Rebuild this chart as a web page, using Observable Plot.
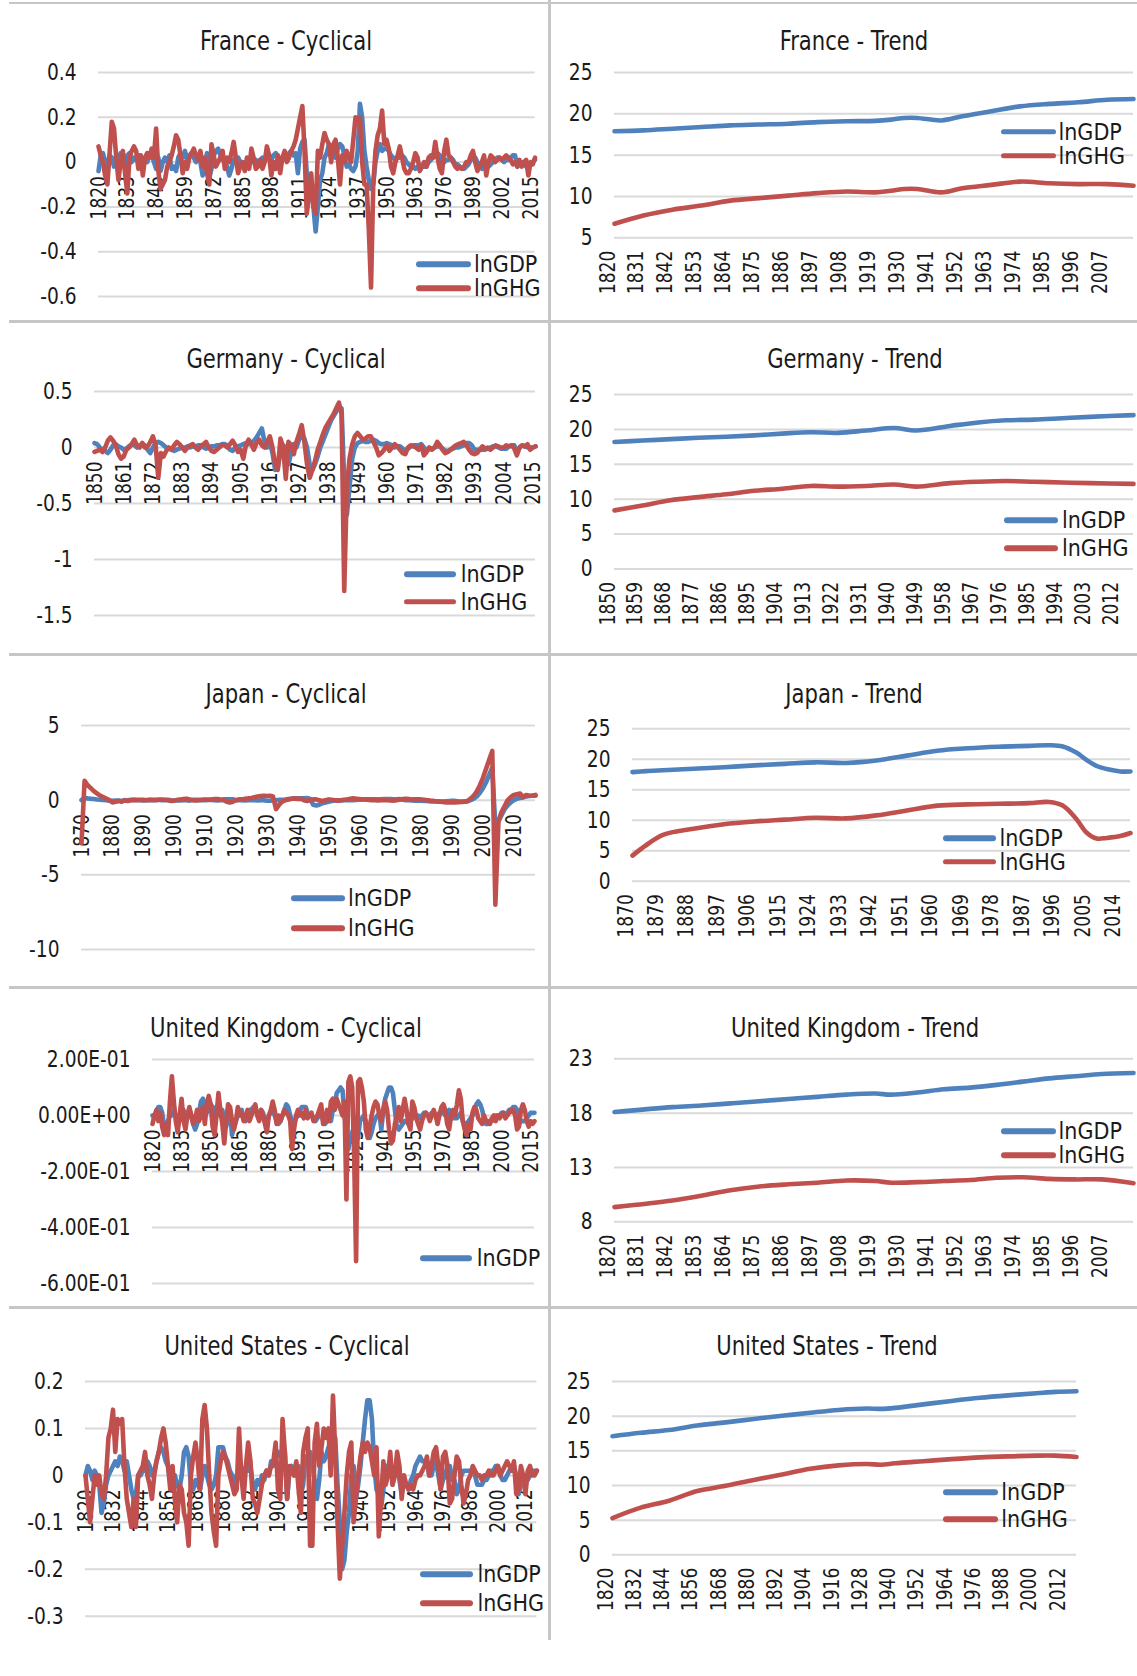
<!DOCTYPE html>
<html><head><meta charset="utf-8">
<script src="https://cdn.jsdelivr.net/npm/d3@7"></script>
<script src="https://cdn.jsdelivr.net/npm/@observablehq/plot@0.6"></script>
<style>
body{margin:0;background:#fff;}
#root{position:relative;width:1137px;height:1676px;background:#fff;overflow:hidden;font-family:"Liberation Sans Narrow","Arial Narrow","DejaVu Sans Condensed",sans-serif;}
.cell{position:absolute;}
.title{position:absolute;transform:translate(-50%,-50%) scaleX(0.87);font-size:27px;white-space:nowrap;color:#1a1a1a;}
.sw{position:absolute;height:5.5px;border-radius:3px;transform:translateY(-50%);}
.lt{position:absolute;transform:translateY(-50%);font-size:23px;color:#1a1a1a;white-space:nowrap;}
.sep{position:absolute;background:#c6c6c6;}
</style></head><body><div id="root"></div>
<script>
// ---------------- DATA ----------------
const seriesNames = ["lnGDP", "lnGHG"];

// France - Cyclical (annual, from 1820)
const franceCycStart = 1820;
const franceCycGDP = [
-0.04,0.03,0.04,0.0,-0.02,0.03,0.02,-0.02,0.0,0.02,
0.04,0.02,-0.02,0.03,0.04,0.0,0.02,0.01,0.02,0.03,
0.0,0.02,0.0,0.03,0.04,0.0,-0.03,0.02,-0.04,0.0,
0.02,0.0,0.03,-0.03,-0.02,-0.04,0.02,0.04,0.02,0.05,
0.01,0.03,0.04,0.02,0.0,0.03,0.0,-0.06,0.0,0.04,
-0.07,-0.03,0.03,0.05,0.06,0.03,0.01,0.0,-0.02,-0.06,
-0.03,0.01,0.02,0.02,0.0,-0.01,-0.02,-0.01,-0.01,0.0,
0.01,0.01,0.0,0.01,0.02,0.01,0.02,0.03,0.01,0.03,
0.04,0.02,0.0,0.02,0.03,0.02,0.04,0.05,0.03,0.04,
-0.05,0.06,0.09,0.1,-0.05,-0.15,-0.1,-0.2,-0.31,-0.2,
-0.08,-0.05,0.02,0.04,0.08,0.05,0.04,0.02,0.06,0.08,
0.07,0.03,-0.02,-0.01,-0.03,-0.04,-0.02,0.05,0.26,0.2,
0.05,-0.02,-0.08,-0.12,-0.1,0.0,0.05,0.08,0.05,0.06,
0.06,0.05,0.03,0.02,0.01,0.02,0.02,0.03,0.02,0.0,
-0.01,-0.02,-0.02,-0.03,-0.02,-0.03,-0.02,-0.02,-0.02,0.0,
0.01,0.02,0.03,0.04,0.03,-0.01,0.0,0.01,0.01,0.02,
0.01,-0.01,-0.01,-0.02,-0.03,-0.03,-0.02,-0.01,0.01,0.02,
0.02,0.0,-0.01,-0.03,-0.02,-0.02,-0.02,-0.01,0.0,0.01,
0.02,0.02,0.01,0.0,0.01,0.01,0.02,0.03,0.03,-0.02,
-0.01,0.0,-0.01,-0.02,-0.02,-0.01,0.0,0.01];
const franceCycGHG = [
0.07,0.03,0.0,-0.06,-0.1,0.04,0.18,0.15,0.02,-0.08,
0.0,0.05,-0.05,-0.14,0.02,0.05,0.07,0.05,-0.03,0.03,
-0.06,0.02,0.04,0.02,0.06,0.02,0.15,-0.04,-0.12,-0.1,
-0.08,-0.02,0.0,0.03,0.07,0.12,0.1,0.03,-0.05,0.0,
-0.03,0.02,0.04,0.06,0.03,0.01,0.05,-0.02,0.02,-0.05,
-0.1,0.08,0.03,-0.02,0.0,0.02,0.05,-0.03,0.02,0.0,
0.04,0.09,0.02,-0.05,-0.02,0.0,-0.04,0.02,-0.03,0.06,
0.02,-0.03,-0.02,0.01,-0.03,0.0,0.07,0.03,-0.06,0.0,
-0.03,0.03,-0.05,0.02,0.05,0.0,0.02,0.05,0.07,0.1,
0.15,0.2,0.25,0.05,-0.23,-0.15,-0.05,-0.2,-0.23,0.05,
0.02,0.08,0.13,0.1,0.08,0.0,0.08,0.1,0.02,-0.1,
0.03,0.0,0.05,0.02,0.0,0.1,0.2,0.18,0.2,0.0,
-0.1,-0.1,-0.3,-0.56,-0.1,0.05,0.12,0.15,0.23,0.08,
0.1,0.06,-0.02,-0.05,0.0,0.03,0.07,0.02,-0.03,-0.05,
-0.05,-0.03,0.0,0.04,0.02,-0.04,-0.02,0.0,-0.02,0.02,
0.03,0.02,0.09,0.02,-0.03,-0.05,0.05,0.1,0.03,0.02,
0.0,-0.02,-0.03,-0.02,-0.03,-0.02,0.0,0.0,0.03,0.05,
0.0,-0.04,-0.02,0.0,0.03,-0.06,0.0,0.03,0.02,0.0,
0.01,0.02,0.01,0.02,0.03,0.02,0.01,-0.01,0.0,-0.02,
0.01,-0.02,0.0,0.01,-0.06,0.0,-0.01,0.02];
const franceCycYTicks = [0.4, 0.2, 0, -0.2, -0.4, -0.6];
const franceCycYLabels = ["0.4", "0.2", "0", "-0.2", "-0.4", "-0.6"];
const franceCycXLabels = ["1820","1833","1846","1859","1872","1885","1898","1911","1924","1937","1950","1963","1976","1989","2002","2015"];

// France - Trend
const franceTrendYears = [1820,1831,1842,1853,1864,1875,1886,1897,1908,1919,1925,1930,1935,1944,1952,1963,1974,1985,1996,2007,2017];
const franceTrendGDP = [17.9,18.0,18.2,18.4,18.6,18.7,18.8,19.0,19.1,19.15,19.3,19.5,19.5,19.2,19.7,20.3,20.9,21.2,21.4,21.7,21.8];
const franceTrendGHG = [6.7,7.7,8.4,8.9,9.5,9.8,10.1,10.4,10.6,10.5,10.7,10.9,10.9,10.5,11.0,11.4,11.8,11.6,11.5,11.5,11.3];
const franceTrendYTicks = [25, 20, 15, 10, 5];
const franceTrendYLabels = ["25", "20", "15", "10", "5"];
const franceTrendXLabels = ["1820","1831","1842","1853","1864","1875","1886","1897","1908","1919","1930","1941","1952","1963","1974","1985","1996","2007"];

// Germany - Cyclical (annual, from 1850)
const germanyCycStart = 1850;
const germanyCycGDP = [
0.04,0.03,0.0,-0.02,-0.03,-0.05,-0.02,0.02,0.03,0.01,
0.0,-0.02,-0.01,0.01,0.03,0.02,0.0,0.02,0.03,0.02,
-0.02,-0.05,0.0,0.04,0.05,0.04,0.02,0.0,-0.01,-0.02,
-0.03,-0.02,-0.01,0.0,0.0,0.01,0.0,0.01,0.01,0.02,
0.02,0.0,-0.01,0.0,0.01,0.01,0.02,0.02,0.03,0.03,
0.02,-0.02,-0.03,0.0,0.01,0.02,0.03,0.04,0.03,0.04,
0.06,0.09,0.13,0.17,0.05,0.0,0.05,-0.05,-0.2,-0.18,
-0.05,0.02,0.0,-0.15,-0.05,0.03,0.0,0.07,0.1,0.08,
0.0,-0.15,-0.2,-0.15,-0.08,0.0,0.06,0.12,0.18,0.24,
0.28,0.32,0.36,0.35,-0.3,-0.6,-0.35,-0.1,0.0,0.04,
0.05,0.06,0.05,0.05,0.06,0.07,0.06,0.04,0.03,0.03,
0.04,0.03,0.02,0.0,0.01,0.01,-0.01,-0.03,-0.01,0.01,
0.02,0.02,0.02,0.03,0.0,-0.03,-0.01,-0.01,0.0,0.01,
0.01,-0.01,-0.03,-0.03,-0.02,-0.01,0.0,0.0,0.01,0.02,
0.04,0.04,0.02,-0.02,-0.02,-0.02,-0.02,-0.02,-0.01,0.0,
0.01,0.01,0.0,-0.01,-0.01,-0.01,0.01,0.02,0.02,-0.04,
0.0,0.02,0.01,0.0,0.0,0.0,0.01];
const germanyCycGHG = [
-0.04,-0.03,-0.02,-0.04,0.0,0.06,0.09,0.06,0.02,-0.06,
-0.1,-0.08,-0.02,0.0,0.03,0.07,0.02,0.0,0.04,0.0,
0.01,0.05,0.1,0.02,-0.27,-0.05,-0.08,-0.03,0.0,-0.02,
0.02,0.05,0.03,0.0,-0.03,0.0,0.02,0.03,0.0,-0.02,
0.01,0.03,0.05,0.0,-0.03,-0.04,-0.02,0.0,0.02,0.02,
0.0,0.03,0.06,0.02,-0.04,-0.02,-0.1,0.02,0.07,0.03,
-0.02,0.04,0.07,0.02,0.0,0.05,0.1,0.0,-0.15,-0.2,
0.08,0.0,-0.28,0.05,0.02,-0.06,0.05,0.12,0.2,0.05,
-0.15,-0.27,-0.2,-0.12,-0.02,0.05,0.12,0.18,0.22,0.26,
0.3,0.35,0.4,0.3,-1.28,-0.35,-0.1,0.03,0.1,0.13,
0.1,0.07,0.08,0.1,0.1,0.05,0.0,-0.07,-0.05,-0.02,
0.02,-0.03,0.0,0.03,0.01,-0.02,-0.05,-0.06,0.0,0.02,
0.01,0.0,-0.02,0.02,-0.07,-0.04,0.0,-0.02,0.0,0.05,
0.02,-0.02,-0.05,-0.04,-0.02,0.0,0.02,0.03,0.04,0.05,
0.02,-0.02,-0.05,-0.06,-0.05,-0.02,0.01,-0.01,0.0,-0.02,
0.0,0.02,0.01,0.0,0.0,0.02,0.01,0.02,-0.01,-0.07,
0.0,0.02,0.01,0.03,-0.02,0.0,0.01];
const germanyCycYTicks = [0.5, 0, -0.5, -1, -1.5];
const germanyCycYLabels = ["0.5", "0", "-0.5", "-1", "-1.5"];
const germanyCycXLabels = ["1850","1861","1872","1883","1894","1905","1916","1927","1938","1949","1960","1971","1982","1993","2004","2015"];

// Germany - Trend
const germanyTrendYears = [1850,1859,1868,1877,1886,1895,1904,1913,1922,1931,1940,1947,1958,1967,1976,1985,1994,2003,2017];
const germanyTrendGDP = [18.2,18.4,18.6,18.8,18.95,19.15,19.4,19.6,19.5,19.85,20.2,19.85,20.5,21.0,21.3,21.4,21.6,21.8,22.05];
const germanyTrendGHG = [8.4,9.1,9.85,10.3,10.7,11.2,11.5,11.9,11.8,11.9,12.1,11.8,12.3,12.5,12.6,12.5,12.4,12.3,12.2];
const germanyTrendYTicks = [25, 20, 15, 10, 5, 0];
const germanyTrendYLabels = ["25", "20", "15", "10", "5", "0"];
const germanyTrendXLabels = ["1850","1859","1868","1877","1886","1895","1904","1913","1922","1931","1940","1949","1958","1967","1976","1985","1994","2003","2012"];

// Japan - Cyclical (annual, from 1870)
const japanCycStart = 1870;
const japanCycGDP = [
0.0,0.15,0.12,0.1,0.08,0.05,0.03,0.01,-0.01,-0.03,
-0.04,-0.03,-0.02,-0.05,-0.03,0.0,0.02,0.03,0.02,0.0,
-0.02,0.0,0.01,0.0,0.02,0.03,0.0,-0.01,0.03,0.0,
-0.02,0.0,-0.02,0.0,0.0,-0.03,0.02,0.03,0.02,0.0,
0.0,0.02,0.02,0.0,-0.02,0.0,0.05,0.06,0.05,0.06,
0.0,0.02,0.0,-0.02,-0.01,0.0,-0.01,-0.02,0.0,0.0,
-0.04,-0.04,-0.02,0.0,0.02,0.03,0.04,0.08,0.1,0.12,
0.12,0.12,0.12,0.14,0.1,-0.3,-0.35,-0.3,-0.2,-0.15,
-0.1,-0.05,-0.02,-0.01,-0.02,0.0,0.0,0.02,0.0,0.01,
0.03,0.05,0.05,0.05,0.06,0.05,0.05,0.06,0.07,0.08,
0.08,0.06,0.06,0.07,0.03,0.0,-0.01,-0.02,-0.03,-0.03,
-0.04,-0.05,-0.06,-0.08,-0.08,-0.08,-0.1,-0.1,-0.08,-0.06,
-0.05,-0.05,-0.08,-0.1,-0.1,-0.08,0.0,0.1,0.25,0.5,
0.8,1.2,1.7,2.2,-1.8,-1.4,-1.0,-0.6,-0.35,-0.15,
0.0,0.1,0.15,0.2,0.25,0.28,0.3,0.3];
const japanCycGHG = [
-2.9,1.3,1.0,0.8,0.6,0.45,0.3,0.2,0.1,0.0,
-0.15,-0.1,-0.05,-0.1,0.0,-0.05,0.0,0.02,0.0,0.03,
0.02,0.0,0.03,0.02,0.0,0.03,0.05,0.03,0.0,-0.05,
-0.03,0.02,0.05,0.08,0.1,0.05,0.0,-0.02,0.0,0.03,
0.05,0.03,0.05,0.07,0.08,0.05,0.0,-0.1,-0.15,-0.1,
0.0,0.05,0.05,0.1,0.12,0.15,0.2,0.25,0.28,0.3,
0.28,0.3,0.25,-0.6,-0.3,-0.1,0.0,0.05,0.1,0.12,
0.08,0.1,0.0,-0.05,0.0,0.05,0.05,0.0,-0.05,0.0,
0.05,0.03,0.0,-0.03,0.0,0.03,0.05,0.1,0.12,0.1,
0.08,0.05,0.05,0.02,0.0,0.0,-0.02,0.0,0.02,0.0,
-0.02,-0.03,0.0,0.05,0.08,0.1,0.08,0.05,0.05,0.05,
0.05,0.03,0.0,-0.03,-0.05,-0.08,-0.1,-0.12,-0.15,-0.15,
-0.15,-0.15,-0.14,-0.12,-0.1,-0.05,0.1,0.3,0.6,1.0,
1.5,2.1,2.7,3.3,-7.0,-1.4,-0.8,-0.4,0.0,0.2,
0.35,0.4,0.45,0.2,0.35,0.3,0.3,0.35];
const japanCycYTicks = [5, 0, -5, -10];
const japanCycYLabels = ["5", "0", "-5", "-10"];
const japanCycXLabels = ["1870","1880","1890","1900","1910","1920","1930","1940","1950","1960","1970","1980","1990","2000","2010"];

// Japan - Trend
const japanTrendYears = [1870,1874,1879,1888,1897,1906,1915,1924,1933,1942,1951,1960,1969,1978,1987,1993,1997,2001,2004,2007,2010,2014,2017];
const japanTrendGDP = [17.9,18.05,18.2,18.45,18.7,19.0,19.25,19.5,19.4,19.8,20.6,21.4,21.8,22.05,22.2,22.3,22.1,21.1,19.9,18.9,18.4,18.0,18.0];
const japanTrendGHG = [4.2,5.9,7.6,8.6,9.35,9.8,10.1,10.4,10.3,10.8,11.6,12.4,12.6,12.7,12.8,13.0,12.4,10.2,8.0,7.0,7.1,7.4,7.9];
const japanTrendYTicks = [25, 20, 15, 10, 5, 0];
const japanTrendYLabels = ["25", "20", "15", "10", "5", "0"];
const japanTrendXLabels = ["1870","1879","1888","1897","1906","1915","1924","1933","1942","1951","1960","1969","1978","1987","1996","2005","2014"];

// United Kingdom - Cyclical (annual, from 1820)
const ukCycStart = 1820;
const ukCycGDP = [
0.0,-0.01,0.01,0.03,0.03,0.01,-0.04,-0.04,-0.02,0.0,
0.0,0.02,0.0,-0.02,0.0,0.02,0.02,0.0,-0.01,0.02,
0.0,-0.03,-0.05,-0.03,0.01,0.05,0.06,0.04,0.01,0.02,
0.04,0.03,0.0,0.03,0.04,0.0,0.02,-0.02,-0.04,0.0,
0.02,-0.07,-0.04,-0.02,0.0,0.01,0.02,-0.01,-0.02,0.0,
0.02,0.02,0.03,0.02,0.01,0.0,0.02,0.01,-0.02,-0.03,
0.0,0.01,0.02,0.0,-0.02,-0.03,-0.02,0.0,0.02,0.04,
0.03,0.0,-0.02,-0.03,-0.01,0.0,0.02,0.03,0.03,0.03,
0.01,0.0,0.0,-0.01,-0.02,-0.01,0.0,0.01,-0.02,-0.03,
-0.02,0.0,-0.02,0.02,0.04,0.08,0.09,0.1,0.09,0.0,
-0.05,-0.12,-0.08,-0.06,-0.04,-0.03,-0.08,-0.02,-0.01,0.0,
-0.02,-0.07,-0.08,-0.06,-0.03,-0.01,0.0,0.01,-0.05,0.02,
0.06,0.08,0.1,0.1,0.08,0.02,-0.04,-0.05,-0.04,-0.03,
-0.02,-0.02,-0.03,-0.02,-0.01,0.0,0.0,0.0,-0.01,0.0,
0.01,0.01,0.0,0.0,0.01,0.01,0.0,0.0,0.01,0.01,
0.01,0.0,0.0,0.02,0.0,-0.01,-0.01,-0.01,0.0,0.01,
-0.02,-0.03,-0.03,-0.02,-0.01,0.0,0.02,0.04,0.05,0.04,
0.02,-0.01,-0.03,-0.03,-0.02,-0.02,-0.01,0.0,0.0,0.0,
0.01,0.01,0.0,0.01,0.02,0.02,0.03,0.03,0.02,-0.03,
-0.02,-0.02,-0.02,-0.01,0.0,0.01,0.01,0.01];
const ukCycGHG = [
-0.03,0.0,0.02,-0.02,0.01,-0.04,-0.07,-0.03,-0.07,0.05,
0.14,0.05,-0.02,-0.06,0.0,0.06,-0.02,-0.05,0.0,0.03,
0.0,-0.03,-0.01,0.02,-0.02,0.0,0.03,-0.03,0.04,0.07,
0.04,-0.04,-0.07,0.0,0.08,0.02,-0.03,-0.1,-0.02,0.04,
0.03,-0.02,-0.05,-0.02,0.03,0.0,0.01,-0.02,-0.01,0.02,
-0.02,0.0,0.02,0.04,0.0,-0.02,0.02,0.0,-0.03,-0.06,
0.0,0.02,0.05,0.02,-0.03,0.0,-0.02,0.0,0.02,0.01,
0.0,-0.02,-0.12,-0.05,0.0,0.02,0.0,0.01,-0.01,0.02,
-0.01,0.0,0.01,-0.02,-0.01,0.0,0.02,0.04,-0.03,-0.02,
0.02,-0.02,0.05,0.06,0.02,0.06,0.04,0.02,0.0,0.05,
-0.3,0.12,0.14,0.1,-0.15,-0.52,0.12,0.13,0.1,0.05,
-0.05,-0.08,-0.04,0.0,0.03,0.05,0.04,0.0,-0.02,0.02,
0.05,0.02,-0.05,-0.1,-0.09,-0.03,0.0,0.03,-0.02,0.02,
0.06,0.02,-0.03,-0.05,0.05,0.03,-0.01,-0.03,-0.05,-0.02,
0.0,0.01,0.0,-0.02,0.0,0.02,0.0,-0.03,0.0,0.03,
0.04,0.02,-0.03,-0.05,0.0,0.02,0.0,0.04,0.09,0.06,
-0.02,-0.05,-0.07,-0.03,-0.05,0.01,0.03,0.02,-0.01,-0.02,
-0.03,0.0,-0.02,-0.02,-0.03,-0.01,0.0,-0.02,0.0,-0.01,
0.0,0.01,-0.01,0.0,0.01,0.02,0.02,0.0,-0.05,-0.04,
0.02,0.04,0.02,-0.02,-0.04,-0.02,-0.03,-0.02];
const ukCycYTicks = [0.2, 0, -0.2, -0.4, -0.6];
const ukCycYLabels = ["2.00E-01", "0.00E+00", "-2.00E-01", "-4.00E-01", "-6.00E-01"];
const ukCycXLabels = ["1820","1835","1850","1865","1880","1895","1910","1925","1940","1955","1970","1985","2000","2015"];

// United Kingdom - Trend
const ukTrendYears = [1820,1842,1853,1864,1875,1886,1897,1908,1919,1925,1935,1945,1955,1965,1975,1985,1995,2005,2017];
const ukTrendGDP = [18.1,18.55,18.7,18.9,19.1,19.3,19.5,19.7,19.8,19.7,19.9,20.2,20.35,20.6,20.9,21.2,21.4,21.6,21.7];
const ukTrendGHG = [9.35,9.96,10.4,10.9,11.25,11.45,11.6,11.8,11.75,11.6,11.65,11.75,11.85,12.05,12.1,11.95,11.9,11.9,11.55];
const ukTrendYTicks = [23, 18, 13, 8];
const ukTrendYLabels = ["23", "18", "13", "8"];
const ukTrendXLabels = ["1820","1831","1842","1853","1864","1875","1886","1897","1908","1919","1930","1941","1952","1963","1974","1985","1996","2007"];

// United States - Cyclical (annual, from 1820)
const usCycStart = 1820;
const usCycGDP = [
0.0,0.02,0.01,-0.01,0.01,0.0,-0.02,-0.08,-0.06,-0.02,
0.0,0.01,0.02,0.03,0.02,0.04,0.03,0.01,0.03,0.0,
-0.03,-0.05,-0.04,0.0,0.0,0.01,0.01,0.03,0.02,0.0,
0.01,0.03,0.05,0.06,0.05,0.03,0.02,-0.01,-0.03,0.0,
-0.02,-0.03,0.0,0.05,0.06,0.04,-0.02,-0.03,-0.01,-0.02,
-0.03,0.0,0.02,0.0,-0.02,-0.03,-0.02,0.0,0.06,0.06,
0.06,0.04,0.03,0.01,0.0,-0.02,0.0,0.01,0.0,0.0,
0.02,0.01,0.02,-0.02,-0.03,-0.01,-0.02,0.0,-0.01,0.01,
0.0,0.03,0.02,0.04,0.05,0.04,0.05,0.05,-0.05,0.01,
0.02,0.0,0.02,0.02,-0.04,-0.02,0.04,0.02,0.05,0.02,
-0.01,-0.05,-0.01,0.05,0.03,0.04,0.06,0.05,0.05,0.08,
-0.02,-0.1,-0.2,-0.18,-0.12,-0.08,0.0,0.02,-0.05,-0.02,
0.02,0.07,0.12,0.16,0.16,0.12,0.02,-0.03,-0.04,-0.07,
-0.03,0.01,0.02,0.03,-0.02,0.01,0.01,-0.01,-0.04,-0.01,
-0.02,-0.03,-0.01,0.0,0.02,0.03,0.04,0.03,0.03,0.03,
0.0,0.0,0.02,0.03,0.0,-0.03,-0.01,0.0,0.02,0.02,
-0.01,-0.01,-0.04,-0.03,0.0,0.01,0.01,0.01,0.01,0.01,
0.0,-0.02,-0.02,-0.02,-0.01,-0.01,0.0,0.01,0.01,0.02,
0.02,0.0,-0.01,-0.01,0.0,0.01,0.02,0.02,0.0,-0.04,
-0.02,-0.02,-0.01,-0.01,0.0,0.01,0.01,0.01];
const usCycGHG = [
0.0,-0.05,-0.1,-0.05,0.0,-0.02,0.0,-0.04,-0.05,0.0,
0.08,0.1,0.14,0.05,0.12,0.11,0.12,0.02,-0.05,-0.08,
-0.11,-0.05,-0.11,0.0,0.01,0.02,0.05,0.0,-0.02,-0.05,
0.0,0.03,0.05,0.08,0.1,0.07,0.02,-0.03,0.02,-0.05,
-0.1,-0.02,-0.03,-0.08,-0.1,-0.15,0.0,0.04,0.07,0.03,
-0.03,0.12,0.15,0.1,0.0,-0.08,-0.12,-0.15,0.0,0.03,
0.05,0.04,0.02,0.0,-0.02,-0.04,-0.03,0.1,0.0,-0.05,
0.02,0.07,0.03,-0.05,-0.06,-0.08,-0.05,-0.02,0.0,0.01,
0.0,0.02,0.03,0.07,-0.03,-0.05,0.12,0.05,-0.05,0.02,
0.01,0.0,0.03,-0.03,-0.08,0.05,0.08,0.1,-0.15,-0.15,
0.07,0.11,0.02,0.06,0.1,0.08,0.1,0.0,0.17,0.05,
-0.1,-0.22,-0.15,-0.08,0.0,0.05,0.07,-0.1,-0.05,0.0,
0.04,0.07,0.05,0.07,0.06,0.03,0.0,0.06,-0.13,-0.05,
0.03,-0.02,0.0,0.05,-0.02,0.0,0.05,0.02,-0.05,0.0,
-0.02,-0.03,-0.02,-0.03,-0.01,0.0,0.0,0.01,0.02,0.04,
0.0,0.02,0.05,0.06,0.02,-0.03,0.04,0.05,0.02,-0.06,
-0.05,0.0,0.04,0.03,-0.02,-0.06,-0.04,-0.01,0.0,0.02,
0.01,0.0,0.0,-0.01,0.0,0.0,0.01,0.0,0.0,0.01,
0.02,0.0,0.01,0.02,0.03,0.02,0.01,0.03,-0.04,-0.03,
0.02,0.0,-0.04,0.01,0.02,0.0,0.0,0.01];
const usCycYTicks = [0.2, 0.1, 0, -0.1, -0.2, -0.3];
const usCycYLabels = ["0.2", "0.1", "0", "-0.1", "-0.2", "-0.3"];
const usCycXLabels = ["1820","1832","1844","1856","1868","1880","1892","1904","1916","1928","1940","1952","1964","1976","1988","2000","2012"];

// United States - Trend
const usTrendYears = [1820,1832,1844,1856,1868,1880,1892,1904,1916,1928,1934,1940,1952,1964,1976,1988,2000,2008,2017];
const usTrendGDP = [17.1,17.6,18.0,18.65,19.1,19.6,20.05,20.5,20.9,21.1,21.05,21.2,21.7,22.2,22.65,23.0,23.3,23.5,23.6];
const usTrendGHG = [5.3,6.8,7.8,9.2,9.95,10.8,11.6,12.4,12.9,13.1,13.0,13.2,13.5,13.8,14.05,14.2,14.3,14.3,14.1];
const usTrendYTicks = [25, 20, 15, 10, 5, 0];
const usTrendYLabels = ["25", "20", "15", "10", "5", "0"];
const usTrendXLabels = ["1820","1832","1844","1856","1868","1880","1892","1904","1916","1928","1940","1952","1964","1976","1988","2000","2012"];

// ---------------- LAYOUT / STYLE ----------------
const FONT = '"Liberation Sans Narrow","Arial Narrow","DejaVu Sans Condensed",sans-serif';
const BLUE = "#4f81bd", RED = "#c0504d", TXT = "#1a1a1a";
const ROWS = [[0,321],[321,654],[654,987],[987,1307],[1307,1676]];
const COLS = [[0,549],[549,1137]];

const fromStart = (start, vals) => vals.map((v, i) => ({year: start + i, v}));
const fromYears = (years, vals) => vals.map((v, i) => ({year: years[i], v}));

const panels = [
  {title:"France - Cyclical", r:0, c:0, tx:286, ty:39.5, g:[98,534.5,72,296], xd:[1820,2017],
   yt:franceCycYTicks, yl:franceCycYLabels, xl:franceCycXLabels, cyc:true,
   gdp:fromStart(franceCycStart, franceCycGDP), ghg:fromStart(franceCycStart, franceCycGHG),
   lg:{x1:416, x2:471, ys:[264,288.3], tx:474, n:2}},
  {title:"France - Trend", r:0, c:1, tx:854, ty:39.5, g:[614,1133,72,237.3], xd:[1820,2017],
   yt:franceTrendYTicks, yl:franceTrendYLabels, xl:franceTrendXLabels, cyc:false,
   gdp:fromYears(franceTrendYears, franceTrendGDP), ghg:fromYears(franceTrendYears, franceTrendGHG),
   lg:{x1:1001, x2:1055.5, ys:[131.7,155.7], tx:1058.5, n:2}},
  {title:"Germany - Cyclical", r:1, c:0, tx:286, ty:357.5, g:[94,535,391,615], xd:[1850,2016],
   yt:germanyCycYTicks, yl:germanyCycYLabels, xl:germanyCycXLabels, cyc:true,
   gdp:fromStart(germanyCycStart, germanyCycGDP), ghg:fromStart(germanyCycStart, germanyCycGHG),
   lg:{x1:403.6, x2:456.4, ys:[574.3,601.7], tx:460.7, n:2}},
  {title:"Germany - Trend", r:1, c:1, tx:854.5, ty:357.5, g:[614,1133,394,568.5], xd:[1850,2017],
   yt:germanyTrendYTicks, yl:germanyTrendYLabels, xl:germanyTrendXLabels, cyc:false,
   gdp:fromYears(germanyTrendYears, germanyTrendGDP), ghg:fromYears(germanyTrendYears, germanyTrendGHG),
   lg:{x1:1004.3, x2:1058.2, ys:[520,548.3], tx:1062, n:2}},
  {title:"Japan - Cyclical", r:2, c:0, tx:286, ty:692.7, g:[81,535,725,949], xd:[1870,2017],
   yt:japanCycYTicks, yl:japanCycYLabels, xl:japanCycXLabels, cyc:true,
   gdp:fromStart(japanCycStart, japanCycGDP), ghg:fromStart(japanCycStart, japanCycGHG),
   lg:{x1:291, x2:344.6, ys:[898.3,928.3], tx:348, n:2}},
  {title:"Japan - Trend", r:2, c:1, tx:854.3, ty:692.7, g:[632,1130,728.3,880.7], xd:[1870,2017],
   yt:japanTrendYTicks, yl:japanTrendYLabels, xl:japanTrendXLabels, cyc:false,
   gdp:fromYears(japanTrendYears, japanTrendGDP), ghg:fromYears(japanTrendYears, japanTrendGHG),
   lg:{x1:942.5, x2:995.7, ys:[838.3,861.7], tx:999.4, n:2}},
  {title:"United Kingdom - Cyclical", r:3, c:0, tx:285.5, ty:1026.7, g:[152,534,1059,1283], xd:[1820,2017],
   yt:ukCycYTicks, yl:ukCycYLabels, xl:ukCycXLabels, cyc:true,
   gdp:fromStart(ukCycStart, ukCycGDP), ghg:fromStart(ukCycStart, ukCycGHG),
   lg:{x1:419.6, x2:472, ys:[1258.3], tx:476.8, n:1}},
  {title:"United Kingdom - Trend", r:3, c:1, tx:854.7, ty:1026.7, g:[614,1133,1058.3,1221.3], xd:[1820,2017],
   yt:ukTrendYTicks, yl:ukTrendYLabels, xl:ukTrendXLabels, cyc:false,
   gdp:fromYears(ukTrendYears, ukTrendGDP), ghg:fromYears(ukTrendYears, ukTrendGHG),
   lg:{x1:1001, x2:1055.6, ys:[1131,1155], tx:1058.6, n:2}},
  {title:"United States - Cyclical", r:4, c:0, tx:287, ty:1345, g:[85,536.4,1381,1615.7], xd:[1820,2017],
   yt:usCycYTicks, yl:usCycYLabels, xl:usCycXLabels, cyc:true,
   gdp:fromStart(usCycStart, usCycGDP), ghg:fromStart(usCycStart, usCycGHG),
   lg:{x1:419.6, x2:473, ys:[1574,1603.3], tx:477.5, n:2}},
  {title:"United States - Trend", r:4, c:1, tx:826.8, ty:1345, g:[612,1076,1381,1554.3], xd:[1820,2017],
   yt:usTrendYTicks, yl:usTrendYLabels, xl:usTrendXLabels, cyc:false,
   gdp:fromYears(usTrendYears, usTrendGDP), ghg:fromYears(usTrendYears, usTrendGHG),
   lg:{x1:943, x2:997.6, ys:[1492.3,1519.3], tx:1001.3, n:2}}
];

const root = document.getElementById("root");
function addDiv(cls, css, text) {
  const d = document.createElement("div");
  d.className = cls;
  Object.assign(d.style, css);
  if (text != null) d.textContent = text;
  root.appendChild(d);
  return d;
}

// condense SVG text (the original uses a narrow typeface)
function condense(svg) {
  for (const t of svg.querySelectorAll("text")) {
    const rotated = (t.getAttribute("transform") || "").includes("rotate");
    const f = rotated ? 0.86 : 0.9;
    const L = t.getComputedTextLength();
    if (L > 0) {
      t.setAttribute("textLength", (L * f).toFixed(2));
      t.setAttribute("lengthAdjust", "spacingAndGlyphs");
    }
  }
}

for (const p of panels) {
  const [rt, rb] = ROWS[p.r], [cl, cr] = COLS[p.c];
  const labelMap = new Map(p.yt.map((t, i) => [t, p.yl[i]]));
  const xText = p.cyc
    ? Plot.text(p.xl, {x: d => +d, y: () => 0, text: d => d, rotate: -90, textAnchor: "end", dy: 14, fontSize: 22, fill: TXT})
    : Plot.text(p.xl, {x: d => +d, frameAnchor: "bottom", text: d => d, rotate: -90, textAnchor: "end", dy: 13, fontSize: 22, fill: TXT});
  const curve = p.cyc ? "linear" : "catmull-rom";
  const svg = Plot.plot({
    width: cr - cl, height: rb - rt,
    marginLeft: p.g[0] - cl, marginRight: cr - p.g[1],
    marginTop: p.g[2] - rt, marginBottom: rb - p.g[3],
    x: {domain: p.xd, axis: null, label: null},
    y: {domain: [d3.min(p.yt), d3.max(p.yt)], axis: null, label: null},
    style: {fontFamily: FONT, background: "transparent", color: TXT, overflow: "visible"},
    marks: [
      Plot.gridY(p.yt, {stroke: "#d9d9d9", strokeOpacity: 1, strokeWidth: 2}),
      Plot.axisY(p.yt, {tickSize: 0, tickPadding: 22, tickFormat: d => labelMap.get(d), fontSize: 23, label: null, fill: TXT}),
      xText,
      Plot.line(p.gdp, {x: "year", y: "v", stroke: BLUE, strokeWidth: 4.6, curve, strokeLinejoin: "round", strokeLinecap: "round"}),
      Plot.line(p.ghg, {x: "year", y: "v", stroke: RED, strokeWidth: 4.6, curve, strokeLinejoin: "round", strokeLinecap: "round"})
    ]
  });
  const cell = addDiv("cell", {left: cl + "px", top: rt + "px", width: (cr - cl) + "px", height: (rb - rt) + "px"});
  cell.appendChild(svg);
  condense(svg);
  addDiv("title", {left: p.tx + "px", top: p.ty + "px"}, p.title);
  for (let i = 0; i < p.lg.n; i++) {
    const y = p.lg.ys[i];
    addDiv("sw", {left: p.lg.x1 + "px", top: y + "px", width: (p.lg.x2 - p.lg.x1) + "px", background: i === 0 ? BLUE : RED});
    addDiv("lt", {left: p.lg.tx + "px", top: y + "px"}, seriesNames[i]);
  }
}

// panel separators
addDiv("sep", {left: "9px", top: "1.5px", width: "1128px", height: "2.5px"});
for (const y of [320, 653, 986, 1306]) addDiv("sep", {left: "9px", top: y + "px", width: "1128px", height: "2.5px"});
addDiv("sep", {left: "548px", top: "0px", width: "2.5px", height: "1640px"});
</script></body></html>
